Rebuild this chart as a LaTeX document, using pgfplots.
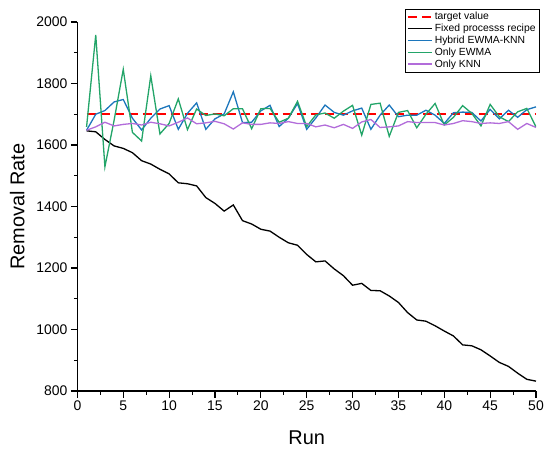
\documentclass[border=0pt]{standalone}
\usepackage{pgfplots}
\pgfplotsset{compat=1.18}
\usepackage{fontspec}
\setmainfont{Liberation Sans}
\setsansfont{Liberation Sans}
\definecolor{cblue}{RGB}{28,118,188}
\definecolor{cgreen}{RGB}{35,165,105}
\definecolor{cpurple}{RGB}{178,108,218}
\begin{document}
\begin{tikzpicture}
\begin{axis}[
  width=458.6bp, height=369bp, scale only axis,
  xmin=0, xmax=50, ymin=800, ymax=2000,
  axis x line*=bottom, axis y line*=left,
  xtick={0,5,...,50}, minor x tick num=1,
  ytick={800,1000,...,2000}, minor y tick num=1,
  tick align=outside, major tick length=6.5bp, minor tick length=3.5bp,
  every tick/.style={black, line width=1.1pt},
  axis line style={line width=1.3pt},
  ticklabel style={font=\fontsize{14}{16}\selectfont},
  /pgf/number format/assume math mode=true,
  /pgf/number format/1000 sep={},
  xlabel={Run}, ylabel={Removal Rate},
  label style={font=\fontsize{20}{22}\selectfont},
  xlabel style={at={(axis description cs:0.5,-0.146)}, anchor=base},
  ylabel style={at={(axis description cs:-0.1156,0.5)}, anchor=base},
  legend style={at={(axis description cs:1.0065,1.035)}, anchor=north east,
    draw=black, font=\fontsize{10.4}{12}\selectfont,
    inner sep=1.2bp, row sep=-1.2bp, cells={anchor=west}},
  legend image code/.code={\draw[#1] (0bp,0bp) -- (24bp,0bp);},
]
\addplot[red, line width=2bp, dash pattern=on 9bp off 5bp] coordinates {(1,1700) (50,1700)};
\addlegendentry{target value}
\addplot[black, line width=1.3bp] coordinates {
(1,1646) (2,1643) (3,1618) (4,1597) (5,1589) (6,1575) (7,1549) (8,1538) (9,1521) (10,1506)
(11,1477) (12,1474) (13,1467) (14,1429) (15,1410) (16,1385) (17,1405) (18,1354) (19,1343) (20,1326)
(21,1320) (22,1300) (23,1282) (24,1274) (25,1244) (26,1220) (27,1223) (28,1197) (29,1175) (30,1144)
(31,1150) (32,1127) (33,1126) (34,1109) (35,1088) (36,1055) (37,1031) (38,1027) (39,1012) (40,995)
(41,979) (42,950) (43,947) (44,934) (45,914) (46,893) (47,880) (48,858) (49,838) (50,832)};
\addlegendentry{Fixed processs recipe}
\addplot[cblue, line width=1.3bp] coordinates {
(1,1648) (2,1700) (3,1712) (4,1740) (5,1748) (6,1687) (7,1649) (8,1687) (9,1717) (10,1728)
(11,1651) (12,1703) (13,1737) (14,1651) (15,1685) (16,1701) (17,1773) (18,1673) (19,1674) (20,1711)
(21,1729) (22,1660) (23,1687) (24,1735) (25,1651) (26,1688) (27,1730) (28,1706) (29,1697) (30,1711)
(31,1720) (32,1651) (33,1697) (34,1730) (35,1692) (36,1697) (37,1697) (38,1713) (39,1697) (40,1670)
(41,1705) (42,1707) (43,1706) (44,1678) (45,1716) (46,1685) (47,1713) (48,1690) (49,1715) (50,1724)};
\addlegendentry{Hybrid EWMA-KNN}
\addplot[cgreen, line width=1.3bp] coordinates {
(1,1659) (2,1958) (3,1529) (4,1680) (5,1846) (6,1641) (7,1613) (8,1825) (9,1636) (10,1670)
(11,1750) (12,1650) (13,1717) (14,1696) (15,1701) (16,1695) (17,1718) (18,1718) (19,1653) (20,1718)
(21,1719) (22,1674) (23,1687) (24,1742) (25,1660) (26,1698) (27,1704) (28,1687) (29,1710) (30,1729)
(31,1632) (32,1732) (33,1736) (34,1628) (35,1706) (36,1712) (37,1656) (38,1700) (39,1735) (40,1665)
(41,1690) (42,1728) (43,1703) (44,1662) (45,1732) (46,1692) (47,1676) (48,1708) (49,1719) (50,1659)};
\addlegendentry{Only EWMA}
\addplot[cpurple, line width=1.3bp] coordinates {
(1,1648) (2,1659) (3,1674) (4,1662) (5,1667) (6,1670) (7,1665) (8,1674) (9,1669) (10,1662)
(11,1674) (12,1688) (13,1669) (14,1672) (15,1677) (16,1669) (17,1652) (18,1672) (19,1667) (20,1667)
(21,1672) (22,1670) (23,1676) (24,1670) (25,1670) (26,1659) (27,1665) (28,1656) (29,1667) (30,1654)
(31,1675) (32,1683) (33,1657) (34,1659) (35,1662) (36,1676) (37,1673) (38,1673) (39,1673) (40,1665)
(41,1670) (42,1679) (43,1676) (44,1670) (45,1672) (46,1670) (47,1676) (48,1651) (49,1670) (50,1657)};
\addlegendentry{Only KNN}
\end{axis}
\pgfresetboundingbox
\path ([shift={(-77.4bp,-63bp)}]current axis.south west) rectangle ([shift={(14bp,22bp)}]current axis.north east);
\end{tikzpicture}
\end{document}
